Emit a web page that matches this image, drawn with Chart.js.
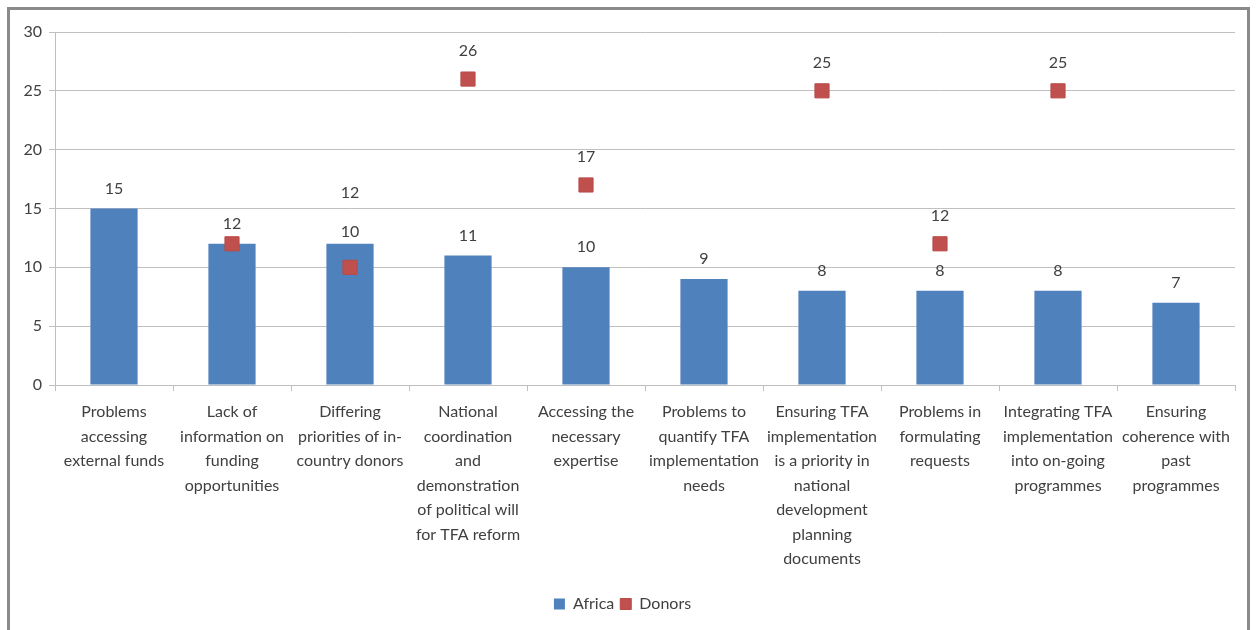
<!DOCTYPE html>
<html>
<head>
    <script src="https://cdn.jsdelivr.net/npm/chart.js@4.4.0/dist/chart.umd.min.js"></script>
    <style>
        body { margin: 0; background: #fff; overflow: hidden; }
        #frame { position: absolute; left: 7px; top: 7px; width: 1237px; height: 640px; border: 3px solid #8a8a8a; background: #fff; }
        #wrap { position: absolute; left: 0; top: 0; width: 1237px; height: 620px; }
    </style>
</head>
<body>
<div id="frame">
    <div id="wrap"><canvas id="myChart"></canvas></div>
</div>

<script>
    const categories = [
        ["Problems", "accessing", "external funds"],
        ["Lack of", "information on", "funding", "opportunities"],
        ["Differing", "priorities of in-", "country donors"],
        ["National", "coordination", "and", "demonstration", "of political will", "for TFA reform"],
        ["Accessing the", "necessary", "expertise"],
        ["Problems to", "quantify TFA", "implementation", "needs"],
        ["Ensuring TFA", "implementation", "is a priority in", "national", "development", "planning", "documents"],
        ["Problems in", "formulating", "requests"],
        ["Integrating TFA", "implementation", "into on-going", "programmes"],
        ["Ensuring", "coherence with", "past", "programmes"]
    ];
    const africaValues = [15, 12, 12, 11, 10, 9, 8, 8, 8, 7];
    const donorValues = [null, 12, 10, 26, 17, null, 25, 12, 25, null];
    // label texts as printed on the picture
    const africaLabels = ["15", "12", "10", "11", "10", "9", "8", "8", "8", "7"];
    const donorLabels = [null, "12", "12", "26", "17", null, "25", "12", "25", null];
    const yTicks = [0, 5, 10, 15, 20, 25, 30];

    const fontFamily = "Lato, 'Liberation Sans', sans-serif";
    const textColor = "#404040";

    const valueLabels = {
        id: "valueLabels",
        afterDatasetsDraw(chart) {
            const ctx = chart.ctx;
            const bars = chart.getDatasetMeta(0).data;
            const points = chart.getDatasetMeta(1).data;
            ctx.save();
            ctx.font = "16px " + fontFamily;
            ctx.fillStyle = textColor;
            ctx.textAlign = "center";
            ctx.textBaseline = "middle";
            bars.forEach((bar, i) => {
                let aY = bar.y - 20;
                let dY = null;
                if (donorLabels[i] != null && donorValues[i] !== africaValues[i]) {
                    dY = points[i].y - 28;
                    // marker sits inside the bar: move both labels clear of it
                    if (Math.abs(dY - aY) < 30 || dY > aY) {
                        aY = bar.y - 12;
                        dY = aY - 39;
                    }
                }
                ctx.fillText(africaLabels[i], bar.x, aY);
                if (dY != null) ctx.fillText(donorLabels[i], points[i].x, dY);
            });
            ctx.restore();
        }
    };

    const myChart = new Chart("myChart", {
        type: "bar",
        data: {
            labels: categories,
            datasets: [{
                label: "Africa",
                data: africaValues,
                backgroundColor: "#4f81bd",
                borderWidth: 0,
                barPercentage: 0.4,
                categoryPercentage: 1,
                pointStyle: "rect",
                order: 2
            }, {
                type: "line",
                label: "Donors",
                data: donorValues,
                showLine: false,
                pointStyle: "rect",
                pointRadius: 10,
                pointHoverRadius: 10,
                backgroundColor: "#c0504d",
                borderColor: "#b94a47",
                borderWidth: 1,
                order: 1
            }]
        },
        options: {
            responsive: true,
            maintainAspectRatio: false,
            animation: false,
            layout: { padding: { top: 22, right: 12, left: 0, bottom: 8 } },
            plugins: {
                legend: {
                    position: "bottom",
                    labels: {
                        usePointStyle: true,
                        pointStyle: "rect",
                        boxWidth: 11,
                        boxHeight: 11,
                        padding: 6,
                        color: textColor,
                        font: { size: 16, family: fontFamily },
                        sort: (a, b) => a.datasetIndex - b.datasetIndex
                    }
                },
                tooltip: { enabled: false }
            },
            scales: {
                x: {
                    offset: true,
                    grid: {
                        display: true,
                        offset: true,
                        drawOnChartArea: false,
                        tickLength: 6,
                        color: "#bfbfbf"
                    },
                    border: { display: true, color: "#bfbfbf" },
                    ticks: {
                        autoSkip: false,
                        maxRotation: 0,
                        minRotation: 0,
                        padding: 9,
                        color: textColor,
                        font: { size: 16, family: fontFamily, lineHeight: 1.53 }
                    },
                    afterFit(scale) { scale.height = 205; }
                },
                y: {
                    min: 0,
                    max: 30,
                    afterBuildTicks(scale) { scale.ticks = yTicks.map(v => ({ value: v })); },
                    grid: { color: "#c0c0c0", tickLength: 6 },
                    border: { display: true, color: "#bfbfbf" },
                    ticks: {
                        padding: 7,
                        color: textColor,
                        font: { size: 16, family: fontFamily }
                    },
                    afterFit(scale) { scale.width = 45; }
                }
            }
        },
        plugins: [valueLabels]
    });
</script>
</body>
</html>
